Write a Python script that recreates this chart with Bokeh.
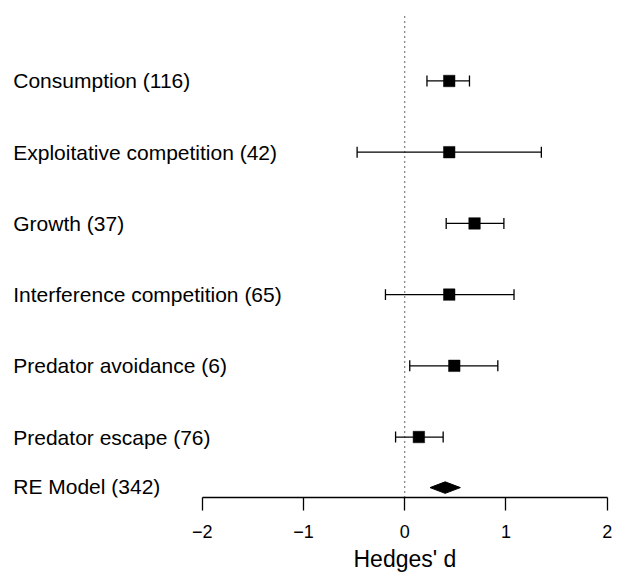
from bokeh.plotting import figure
from bokeh.models import Range1d, FixedTicker, ColumnDataSource, Title
from bokeh.core.properties import value
from bokeh.embed import file_html
from bokeh.resources import INLINE

# ---- data ----
categories = ["Consumption", "Exploitative competition", "Growth",
              "Interference competition", "Predator avoidance", "Predator escape"]
n_studies = [116, 42, 37, 65, 6, 76]
estimate = [0.44, 0.44, 0.69, 0.44, 0.49, 0.14]
ci_lower = [0.22, -0.47, 0.41, -0.19, 0.05, -0.09]
ci_upper = [0.64, 1.35, 0.98, 1.08, 0.92, 0.38]
re_label = "RE Model"
re_n = 342
re_estimate = 0.40
re_lower = 0.25
re_upper = 0.55
x_ticks = [-2, -1, 0, 1, 2]
x_tick_labels = ["\u22122", "\u22121", "0", "1", "2"]
x_title = "Hedges' d"

FONT = "Liberation Sans"
k = len(categories)
rows = [k - i for i in range(k)]
RE_ROW = 0.29
Y0, Y1 = 0.151, 7.130
CAP = 0.077
X0, X1 = -3.993, 2.132
LABEL_X = -3.867

p = figure(width=620, height=575, output_backend="svg", toolbar_location=None,
           x_range=Range1d(X0, X1), y_range=Range1d(Y0, Y1),
           y_axis_location=None, x_axis_location="below",
           min_border_left=0, min_border_right=0, min_border_top=0,
           min_border_bottom=77)
p.outline_line_color = None
p.xgrid.visible = False
p.ygrid.visible = False
p.background_fill_color = "white"
p.border_fill_color = "white"

ax = p.xaxis[0]
ax.ticker = FixedTicker(ticks=x_ticks)
ax.major_label_overrides = {t: l for t, l in zip(x_ticks, x_tick_labels)}
ax.bounds = (min(x_ticks), max(x_ticks))
ax.axis_line_color = "black"
ax.axis_line_width = 1.3
ax.major_tick_line_color = "black"
ax.major_tick_line_width = 1.3
ax.major_tick_in = 0
ax.major_tick_out = 13
ax.minor_tick_line_color = None
ax.major_label_text_font = FONT
ax.major_label_text_font_size = "18px"
ax.major_label_text_color = "black"
ax.major_label_standoff = 14

# axis title centred under x = 0 (as in the reference)
p.add_layout(Title(text=x_title, align="left", offset=353, standoff=7,
                   text_font=FONT, text_font_size="23px", text_font_style="normal",
                   text_color="black"), "below")

src = ColumnDataSource(dict(
    y=rows, est=estimate, lo=ci_lower, hi=ci_upper,
    ylo=[r - CAP for r in rows], yhi=[r + CAP for r in rows],
    label=[f"{c} ({n})" for c, n in zip(categories, n_studies)],
    lx=[LABEL_X] * k,
))

# zero reference line
p.segment(x0=[0], y0=[Y0], x1=[0], y1=[6.95], line_color="black",
          line_width=1.2, line_dash="1 4")

# CI lines and caps
p.segment(x0="lo", y0="y", x1="hi", y1="y", source=src, line_color="black", line_width=1.3)
p.segment(x0="lo", y0="ylo", x1="lo", y1="yhi", source=src, line_color="black", line_width=1.3)
p.segment(x0="hi", y0="ylo", x1="hi", y1="yhi", source=src, line_color="black", line_width=1.3)

# point estimates
p.scatter(x="est", y="y", source=src, marker="square", size=11.5,
          fill_color="black", line_color="black", line_width=0.5)

# labels
p.text(x="lx", y="y", text="label", source=src, text_font=value(FONT),
       text_font_size="21px", text_align="left", text_baseline="middle",
       text_color="black")
p.text(x=[LABEL_X], y=[RE_ROW + 0.02], text=[f"{re_label} ({re_n})"], text_font=value(FONT),
       text_font_size="21px", text_align="left", text_baseline="middle",
       text_color="black")

# RE diamond
DH = 0.081
p.patch(x=[re_lower, re_estimate, re_upper, re_estimate],
        y=[RE_ROW, RE_ROW + DH, RE_ROW, RE_ROW - DH],
        fill_color="black", line_color="black", line_width=1)

open("out.html", "w").write(file_html(p, INLINE))
